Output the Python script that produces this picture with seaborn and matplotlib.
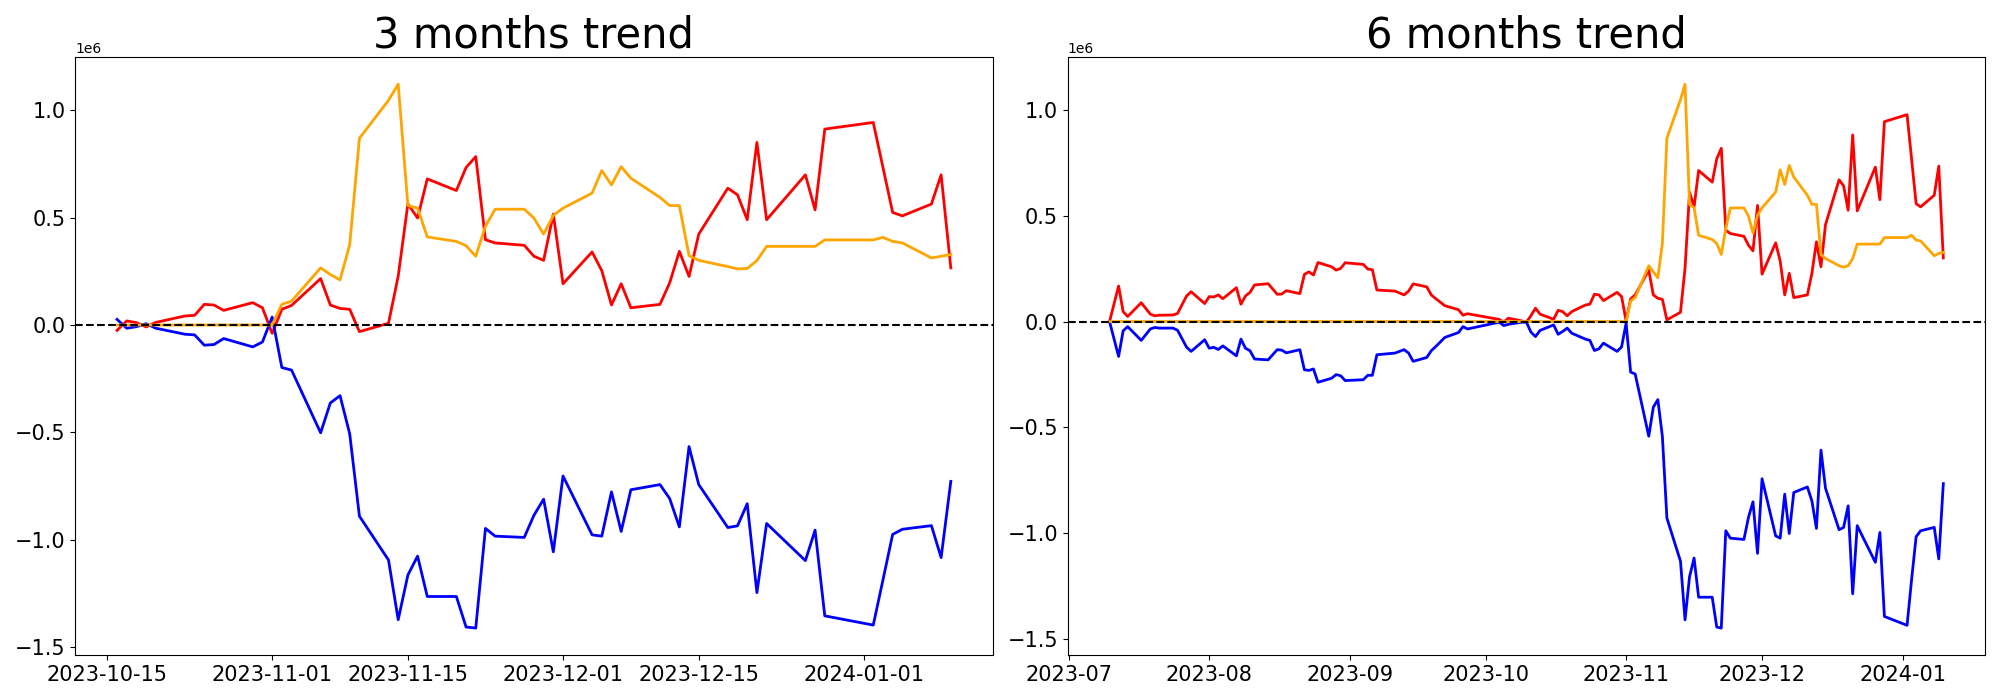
import pandas as pd
import seaborn as sns
import matplotlib
matplotlib.use("Agg")
import matplotlib.pyplot as plt

# ---- 3 months window (values in millions) ----
dates_3m = [
    "2023-10-16", "2023-10-17", "2023-10-18", "2023-10-19", "2023-10-20",
    "2023-10-23", "2023-10-24", "2023-10-25", "2023-10-26", "2023-10-27",
    "2023-10-30", "2023-10-31",
    "2023-11-01", "2023-11-02", "2023-11-03", "2023-11-06", "2023-11-07",
    "2023-11-08", "2023-11-09", "2023-11-10", "2023-11-13", "2023-11-14",
    "2023-11-15", "2023-11-16", "2023-11-17", "2023-11-20", "2023-11-21",
    "2023-11-22", "2023-11-23", "2023-11-24", "2023-11-27", "2023-11-28",
    "2023-11-29", "2023-11-30",
    "2023-12-01", "2023-12-04", "2023-12-05", "2023-12-06", "2023-12-07",
    "2023-12-08", "2023-12-11", "2023-12-12", "2023-12-13", "2023-12-14",
    "2023-12-15", "2023-12-18", "2023-12-19", "2023-12-20", "2023-12-21",
    "2023-12-22", "2023-12-26", "2023-12-27", "2023-12-28",
    "2024-01-02", "2024-01-03", "2024-01-04", "2024-01-05", "2024-01-08",
    "2024-01-09", "2024-01-10",
]
red_3m = [
    -0.025, 0.019, 0.011, -0.009, 0.012, 0.042, 0.045, 0.096, 0.093, 0.068, 0.104, 0.080,
    -0.039, 0.073, 0.091, 0.216, 0.093, 0.077, 0.073, -0.031, 0.008, 0.227, 0.564, 0.498,
    0.680, 0.626, 0.733, 0.784, 0.397, 0.382, 0.371, 0.320, 0.301, 0.516,
    0.192, 0.340, 0.253, 0.093, 0.192, 0.080, 0.096, 0.196, 0.343, 0.226, 0.423, 0.637,
    0.606, 0.490, 0.850, 0.490, 0.699, 0.536, 0.912,
    0.943, 0.734, 0.524, 0.508, 0.563, 0.699, 0.266,
]
blue_3m = [
    0.026, -0.015, -0.008, 0.006, -0.015, -0.043, -0.046, -0.094, -0.091, -0.063, -0.102, -0.079,
    0.037, -0.198, -0.210, -0.502, -0.363, -0.329, -0.507, -0.890, -1.094, -1.372, -1.164, -1.076,
    -1.264, -1.264, -1.406, -1.411, -0.947, -0.983, -0.989, -0.886, -0.811, -1.056,
    -0.703, -0.977, -0.983, -0.777, -0.961, -0.767, -0.743, -0.808, -0.940, -0.566, -0.743, -0.943,
    -0.935, -0.832, -1.246, -0.924, -1.097, -0.955, -1.354,
    -1.397, -1.187, -0.975, -0.951, -0.934, -1.083, -0.728,
]
orange_3m = [
    0.0, 0.0, 0.0, 0.0, 0.0, 0.0, 0.0, 0.0, 0.0, 0.0, 0.0, 0.0,
    0.0, 0.096, 0.111, 0.266, 0.235, 0.210, 0.374, 0.869, 1.046, 1.121, 0.556, 0.544,
    0.410, 0.389, 0.369, 0.320, 0.460, 0.539, 0.539, 0.498, 0.423, 0.510,
    0.544, 0.614, 0.719, 0.652, 0.737, 0.683, 0.594, 0.556, 0.556, 0.323, 0.301, 0.272,
    0.261, 0.263, 0.300, 0.366, 0.366, 0.366, 0.396,
    0.396, 0.408, 0.389, 0.382, 0.312, 0.320, 0.328,
]

# ---- 6 months window (values in millions) ----
dates_6m = [
    "2023-07-10", "2023-07-12", "2023-07-13", "2023-07-14", "2023-07-17",
    "2023-07-19", "2023-07-20", "2023-07-21", "2023-07-24", "2023-07-25",
    "2023-07-27", "2023-07-28", "2023-07-31",
    "2023-08-01", "2023-08-02", "2023-08-03", "2023-08-04", "2023-08-07",
    "2023-08-08", "2023-08-09", "2023-08-10", "2023-08-11", "2023-08-14",
    "2023-08-16", "2023-08-17", "2023-08-18", "2023-08-21", "2023-08-22",
    "2023-08-23", "2023-08-24", "2023-08-25", "2023-08-28", "2023-08-29",
    "2023-08-30", "2023-08-31",
    "2023-09-04", "2023-09-05", "2023-09-06", "2023-09-07", "2023-09-11",
    "2023-09-13", "2023-09-14", "2023-09-15", "2023-09-18", "2023-09-19",
    "2023-09-20", "2023-09-22", "2023-09-25", "2023-09-26", "2023-09-27",
    "2023-10-04", "2023-10-05", "2023-10-06", "2023-10-09", "2023-10-10",
    "2023-10-11", "2023-10-12", "2023-10-13", "2023-10-16", "2023-10-17",
    "2023-10-18", "2023-10-19", "2023-10-20", "2023-10-23", "2023-10-24",
    "2023-10-25", "2023-10-26", "2023-10-27", "2023-10-30", "2023-10-31",
    "2023-11-01", "2023-11-02", "2023-11-03", "2023-11-06", "2023-11-07",
    "2023-11-08", "2023-11-09", "2023-11-10", "2023-11-13", "2023-11-14",
    "2023-11-15", "2023-11-16", "2023-11-17", "2023-11-20", "2023-11-21",
    "2023-11-22", "2023-11-23", "2023-11-24", "2023-11-27", "2023-11-28",
    "2023-11-29", "2023-11-30",
    "2023-12-01", "2023-12-04", "2023-12-05", "2023-12-06", "2023-12-07",
    "2023-12-08", "2023-12-11", "2023-12-12", "2023-12-13", "2023-12-14",
    "2023-12-15", "2023-12-18", "2023-12-19", "2023-12-20", "2023-12-21",
    "2023-12-22", "2023-12-26", "2023-12-27", "2023-12-28",
    "2024-01-02", "2024-01-03", "2024-01-04", "2024-01-05", "2024-01-08",
    "2024-01-09", "2024-01-10",
]
red_6m = [
    0.0, 0.168, 0.047, 0.024, 0.089, 0.035, 0.027, 0.030, 0.031, 0.038, 0.121, 0.141, 0.085,
    0.118, 0.116, 0.126, 0.108, 0.160, 0.082, 0.121, 0.138, 0.173, 0.179, 0.129,
    0.130, 0.146, 0.132, 0.223, 0.235, 0.220, 0.279, 0.259, 0.243, 0.251, 0.278,
    0.270, 0.248, 0.245, 0.149, 0.144, 0.126, 0.144, 0.178, 0.164, 0.126,
    0.108, 0.075, 0.056, 0.030, 0.037,
    0.010, -0.003, 0.016, 0.003, -0.003, 0.028, 0.063, 0.035, 0.011, 0.053,
    0.047, 0.027, 0.047, 0.078, 0.082, 0.129, 0.126, 0.099, 0.138, 0.118,
    0.003, 0.107, 0.126, 0.243, 0.126, 0.110, 0.105, 0.008, 0.044, 0.251, 0.612,
    0.542, 0.714, 0.659, 0.769, 0.819, 0.432, 0.416, 0.403, 0.361, 0.334, 0.549,
    0.224, 0.372, 0.286, 0.126, 0.228, 0.113, 0.126, 0.228, 0.377, 0.259,
    0.458, 0.670, 0.641, 0.526, 0.882, 0.523, 0.730, 0.576, 0.945,
    0.978, 0.768, 0.557, 0.542, 0.597, 0.735, 0.301,
]
blue_6m = [
    0.0, -0.165, -0.044, -0.024, -0.089, -0.035, -0.028, -0.031, -0.031, -0.041, -0.121, -0.141, -0.086,
    -0.126, -0.122, -0.132, -0.115, -0.162, -0.083, -0.126, -0.138, -0.177, -0.181, -0.133,
    -0.135, -0.148, -0.133, -0.228, -0.231, -0.224, -0.287, -0.268, -0.251, -0.256, -0.279,
    -0.275, -0.254, -0.254, -0.157, -0.149, -0.133, -0.149, -0.188, -0.170, -0.138,
    -0.118, -0.075, -0.052, -0.024, -0.035,
    -0.003, -0.019, -0.013, -0.003, -0.003, -0.050, -0.071, -0.042, -0.016, -0.060,
    -0.047, -0.031, -0.055, -0.083, -0.089, -0.137, -0.129, -0.102, -0.141, -0.120,
    -0.008, -0.239, -0.248, -0.542, -0.405, -0.369, -0.542, -0.929, -1.133, -1.410, -1.206,
    -1.118, -1.303, -1.303, -1.444, -1.449, -0.989, -1.024, -1.030, -0.926, -0.852, -1.096,
    -0.743, -1.013, -1.024, -0.816, -1.002, -0.808, -0.782, -0.848, -0.978, -0.608,
    -0.788, -0.984, -0.973, -0.871, -1.287, -0.965, -1.138, -0.997, -1.394,
    -1.436, -1.220, -1.017, -0.989, -0.973, -1.122, -0.766,
]
orange_6m = [
    0.0, 0.0, 0.0, 0.0, 0.0, 0.0, 0.0, 0.0, 0.0, 0.0, 0.0, 0.0, 0.0,
    0.0, 0.0, 0.0, 0.0, 0.0, 0.0, 0.0, 0.0, 0.0, 0.0, 0.0,
    0.0, 0.0, 0.0, 0.0, 0.0, 0.0, 0.0, 0.0, 0.0, 0.0, 0.0,
    0.0, 0.0, 0.0, 0.0, 0.0, 0.0, 0.0, 0.0, 0.0, 0.0,
    0.0, 0.0, 0.0, 0.0, 0.0,
    0.0, 0.0, 0.0, 0.0, 0.0, 0.0, 0.0, 0.0, 0.0, 0.0,
    0.0, 0.0, 0.0, 0.0, 0.0, 0.0, 0.0, 0.0, 0.0, 0.0,
    0.0, 0.097, 0.113, 0.264, 0.235, 0.207, 0.369, 0.867, 1.049, 1.122, 0.553,
    0.538, 0.408, 0.388, 0.369, 0.317, 0.440, 0.537, 0.537, 0.499, 0.419, 0.502,
    0.538, 0.612, 0.717, 0.648, 0.738, 0.683, 0.597, 0.554, 0.554, 0.317,
    0.298, 0.264, 0.257, 0.264, 0.298, 0.366, 0.366, 0.366, 0.397,
    0.397, 0.408, 0.385, 0.381, 0.311, 0.322, 0.327,
]

titles = ["3 months trend", "6 months trend"]
line_colors = ["red", "blue", "orange"]


def make_frame(dates, red, blue, orange):
    df = pd.DataFrame({
        "date": pd.to_datetime(dates),
        "red": red,
        "blue": blue,
        "orange": orange,
    })
    for col in line_colors:
        df[col] = df[col] * 1e6
    return df


def draw_panel(ax, df, title):
    for col in line_colors:
        sns.lineplot(data=df, x="date", y=col, color=col, linewidth=2, ax=ax)
    ax.axhline(0, color="black", linestyle="--", linewidth=1.5)
    ax.set_title(title, fontsize=30)
    ax.set_xlabel("")
    ax.set_ylabel("")
    ax.tick_params(labelsize=15)


def main():
    frames = [
        make_frame(dates_3m, red_3m, blue_3m, orange_3m),
        make_frame(dates_6m, red_6m, blue_6m, orange_6m),
    ]
    fig, axes = plt.subplots(1, 2, figsize=(20, 7), dpi=100)
    for ax, df, title in zip(axes, frames, titles):
        draw_panel(ax, df, title)
    fig.tight_layout()
    fig.savefig("out.png")
    plt.close(fig)


if __name__ == "__main__":
    main()
